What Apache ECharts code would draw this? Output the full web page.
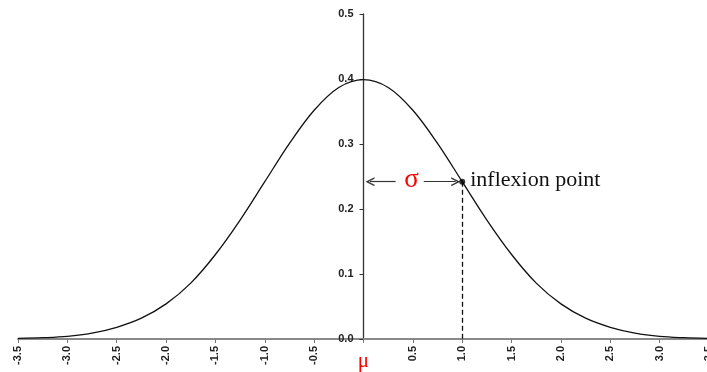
<!DOCTYPE html>
<html>
<head>
<meta charset="utf-8">
<script src="https://cdn.jsdelivr.net/npm/echarts@6/dist/echarts.min.js"></script>
<style>
  html, body { margin: 0; padding: 0; background: #fff; }
  #chart { width: 707px; height: 372px; }
</style>
</head>
<body>
<div id="chart"></div>
<script>
// Standard normal density, sampled every 0.25
const xValues = [-3.5, -3.25, -3.0, -2.75, -2.5, -2.25, -2.0, -1.75, -1.5, -1.25, -1.0, -0.75, -0.5, -0.25,
  0, 0.25, 0.5, 0.75, 1.0, 1.25, 1.5, 1.75, 2.0, 2.25, 2.5, 2.75, 3.0, 3.25, 3.5];
const densityValues = [0.001, 0.002, 0.004, 0.009, 0.018, 0.032, 0.054, 0.086, 0.130, 0.183, 0.242, 0.301, 0.352, 0.387,
  0.399, 0.387, 0.352, 0.301, 0.242, 0.183, 0.130, 0.086, 0.054, 0.032, 0.018, 0.009, 0.004, 0.002, 0.001];

// Inflexion point at one standard deviation
const inflexionX = 1.0;
const inflexionY = 0.242;
// Sigma arrow: two shafts with a gap for the label
const sigmaArrowEnds = [0.066, 0.934];
const sigmaGap = [0.325, 0.61];

const chart = echarts.init(document.getElementById('chart'), null, { renderer: 'canvas' });

// Open arrow head, drawn pointing "up" (ECharts rotates it along the line)
const chevron = 'path://M0,10 L5,0 L10,10 L8.3,10 L5,3.4 L1.7,10 Z';
const labelFont = { fontFamily: 'Liberation Sans, Arial, sans-serif', fontWeight: 'bold', fontSize: 11, color: '#222' };
const gridLeft = 18;

function buildOption(yOffset) {
  return {
    animation: false,
    grid: { left: gridLeft, right: -2, top: 14, bottom: 33, containLabel: false, outerBoundsMode: 'none' },
    xAxis: {
      type: 'value', min: -3.5, max: 3.5, interval: 0.5,
      axisLine: { onZero: true, lineStyle: { color: '#8a8a8a', width: 2 } },
      axisTick: { show: true, length: 4, lineStyle: { color: '#777' } },
      splitLine: { show: false },
      axisLabel: Object.assign({
        rotate: 90, margin: 7, showMaxLabel: true, showMinLabel: true, hideOverlap: false,
        formatter: v => (Math.abs(v) < 1e-9 ? '' : v.toFixed(1))
      }, labelFont)
    },
    yAxis: {
      type: 'value', min: 0, max: 0.5, interval: 0.1,
      position: 'left', offset: yOffset,
      axisLine: { show: true, onZero: false, lineStyle: { color: '#333', width: 1.3 } },
      axisTick: { show: true, length: 4, lineStyle: { color: '#333' } },
      splitLine: { show: false },
      axisLabel: Object.assign({ margin: 10, formatter: v => v.toFixed(1) }, labelFont)
    },
    series: [
      {
        type: 'line', smooth: 0.35, symbol: 'none',
        data: xValues.map((x, i) => [x, densityValues[i]]),
        lineStyle: { color: '#111', width: 1.3 },
        z: 3
      },
      {
        type: 'line', data: [], symbol: 'none',
        markLine: {
          silent: true, animation: false,
          label: { show: false },
          data: [
            [
              { coord: [inflexionX, inflexionY], symbol: 'none' },
              { coord: [inflexionX, 0], symbol: 'none' }
            ]
          ],
          lineStyle: { color: '#111', type: [5, 3], width: 1.3 }
        }
      },
      {
        type: 'line', data: [], symbol: 'none',
        markLine: {
          silent: true, animation: false,
          label: { show: false },
          symbolSize: [9, 9],
          lineStyle: { color: '#333', type: 'solid', width: 1.2 },
          data: [
            [
              { coord: [sigmaArrowEnds[0], inflexionY], symbol: chevron },
              { coord: [sigmaGap[0], inflexionY], symbol: 'none' }
            ],
            [
              { coord: [sigmaGap[1], inflexionY], symbol: 'none' },
              { coord: [sigmaArrowEnds[1], inflexionY], symbol: chevron }
            ]
          ]
        }
      },
      {
        type: 'scatter', data: [[inflexionX, inflexionY]],
        symbolSize: 6, itemStyle: { color: '#000' }, z: 5
      }
    ]
  };
}

chart.setOption(buildOption(0));

// Move the vertical axis (line, ticks and labels) onto x = 0
function px(x, y) { return chart.convertToPixel({ gridIndex: 0 }, [x, y]); }
const zeroPx = px(0, 0);
chart.setOption(buildOption(-(zeroPx[0] - gridLeft)));

// Text annotations placed through the axes' own coordinate mapping
const sigmaPos = px((sigmaGap[0] + sigmaGap[1]) / 2, inflexionY);
const pointPos = px(inflexionX, inflexionY);

chart.setOption({
  graphic: [
    {
      type: 'text', x: sigmaPos[0] + 2, y: sigmaPos[1] - 2,
      style: { text: 'σ', fill: '#ff0000', font: '27px "Liberation Serif", serif', textAlign: 'center', textVerticalAlign: 'middle' }
    },
    {
      type: 'text', x: pointPos[0] + 8, y: pointPos[1] - 1,
      style: { text: 'inflexion point', fill: '#111', font: '22px "Liberation Serif", serif', textAlign: 'left', textVerticalAlign: 'middle' }
    },
    {
      type: 'text', x: zeroPx[0], y: zeroPx[1] + 22,
      style: { text: 'μ', fill: '#ff0000', font: '21px "Liberation Serif", serif', textAlign: 'center', textVerticalAlign: 'middle' }
    }
  ]
});
</script>
</body>
</html>
